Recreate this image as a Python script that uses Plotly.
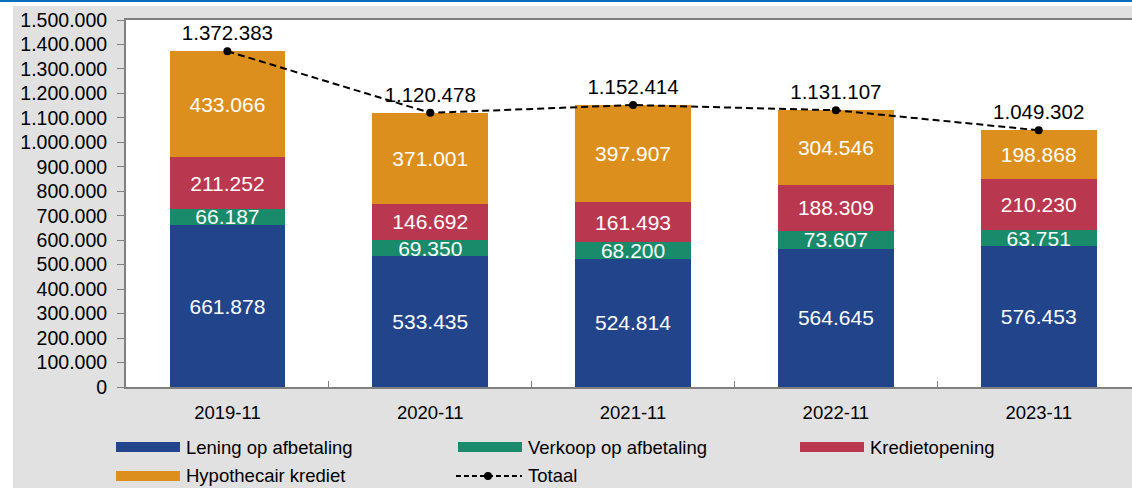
import plotly.graph_objects as go

# ---------------- data ----------------
categories = ["2019-11", "2020-11", "2021-11", "2022-11", "2023-11"]
lening = [661878, 533435, 524814, 564645, 576453]
verkoop = [66187, 69350, 68200, 73607, 63751]
krediet = [211252, 146692, 161493, 188309, 210230]
hypotheek = [433066, 371001, 397907, 304546, 198868]
totaal = [1372383, 1120478, 1152414, 1131107, 1049302]

series_names = ["Lening op afbetaling", "Verkoop op afbetaling", "Kredietopening", "Hypothecair krediet"]
total_name = "Totaal"
y_ticks = list(range(0, 1500001, 100000))

# ---------------- style ----------------
colors = ["#22448a", "#198b6b", "#b9374f", "#dc8f1c"]
FONT = "Liberation Sans, Arial, sans-serif"
W, H = 1132, 488
ML, MR, MT, MB = 126, 0, 20, 101
PW, PH = W - ML - MR, H - MT - MB
GRAY_BG = "#e1e1e1"
AXIS = "#808080"


def px_x(px):
    return (px - ML) / PW


def px_y(py):
    return (H - MB - py) / PH


fig = go.Figure()
for name, vals, col in zip(series_names, [lening, verkoop, krediet, hypotheek], colors):
    fig.add_trace(go.Bar(
        x=categories, y=vals, name=name, marker=dict(color=col, line=dict(width=0)),
        texttemplate="%{y:,d}", textposition="inside", insidetextanchor="middle",
        textangle=0, constraintext="none",
        insidetextfont=dict(family=FONT, size=21, color="white"),
        showlegend=False,
    ))

fig.add_trace(go.Scatter(
    x=categories, y=totaal, name=total_name, mode="lines+markers+text",
    line=dict(color="black", width=2, dash="7px,4px"),
    marker=dict(color="black", size=8),
    texttemplate="%{y:,d}", textposition="top center",
    textfont=dict(family=FONT, size=20.5, color="black"),
    showlegend=False, cliponaxis=False,
))

shapes = [
    # white strips and blue top rule outside the grey panel
    dict(type="rect", xref="paper", yref="paper", x0=px_x(0), x1=px_x(13), y0=px_y(H), y1=px_y(0),
         fillcolor="white", line=dict(width=0), layer="below"),
    dict(type="rect", xref="paper", yref="paper", x0=px_x(0), x1=px_x(W), y0=px_y(6), y1=px_y(0),
         fillcolor="white", line=dict(width=0), layer="below"),
    dict(type="rect", xref="paper", yref="paper", x0=px_x(0), x1=px_x(W), y0=px_y(2), y1=px_y(0),
         fillcolor="#0a6fbd", line=dict(width=0), layer="above"),
]
annotations = []

# manual legend
ROW1, ROW2 = 447, 476
leg_items = [
    (series_names[0], colors[0], 116, ROW1),
    (series_names[1], colors[1], 458, ROW1),
    (series_names[2], colors[2], 800, ROW1),
    (series_names[3], colors[3], 116, ROW2),
]
for name, col, x0, yc in leg_items:
    shapes.append(dict(type="rect", xref="paper", yref="paper",
                       x0=px_x(x0), x1=px_x(x0 + 64), y0=px_y(yc + 5), y1=px_y(yc - 5),
                       fillcolor=col, line=dict(width=0)))
    annotations.append(dict(xref="paper", yref="paper", x=px_x(x0 + 68), y=px_y(yc),
                            text=name, showarrow=False, xanchor="left", yanchor="middle",
                            font=dict(family=FONT, size=18.5, color="black")))
# total legend entry
shapes.append(dict(type="line", xref="paper", yref="paper", x0=px_x(456), x1=px_x(522),
                   y0=px_y(ROW2), y1=px_y(ROW2), line=dict(color="black", width=2, dash="5px,3px")))
shapes.append(dict(type="circle", xref="paper", yref="paper", x0=px_x(484), x1=px_x(492),
                   y0=px_y(ROW2 + 4), y1=px_y(ROW2 - 4), fillcolor="black", line=dict(width=0)))
annotations.append(dict(xref="paper", yref="paper", x=px_x(526), y=px_y(ROW2), text=total_name,
                        showarrow=False, xanchor="left", yanchor="middle",
                        font=dict(family=FONT, size=18.5, color="black")))

fig.update_layout(
    width=W, height=H, autosize=False,
    barmode="stack", bargap=0.43,
    margin=dict(l=ML, r=MR, t=MT, b=MB, pad=0),
    paper_bgcolor=GRAY_BG, plot_bgcolor="white",
    separators=",.",
    font=dict(family=FONT, size=18, color="black"),
    shapes=shapes, annotations=annotations,
    xaxis=dict(type="category", range=[-0.5, 4.46], showgrid=False, showline=True,
               linecolor=AXIS, linewidth=2, mirror=True,
               ticks="inside", tickson="boundaries", ticklen=6, tickcolor=AXIS,
               tickfont=dict(family=FONT, size=18.5, color="black"), ticklabelstandoff=8),
    yaxis=dict(range=[0, 1500000], tickvals=y_ticks, tickformat=",d", showgrid=False,
               zeroline=False, showline=True, linecolor=AXIS, linewidth=2,
               ticks="outside", ticklen=7, tickcolor=AXIS, ticklabelstandoff=6,
               tickfont=dict(family=FONT, size=19.5, color="black")),
)

fig.write_html("out.html", config={"displayModeBar": False},
               post_script="document.body.style.margin='0px';")
